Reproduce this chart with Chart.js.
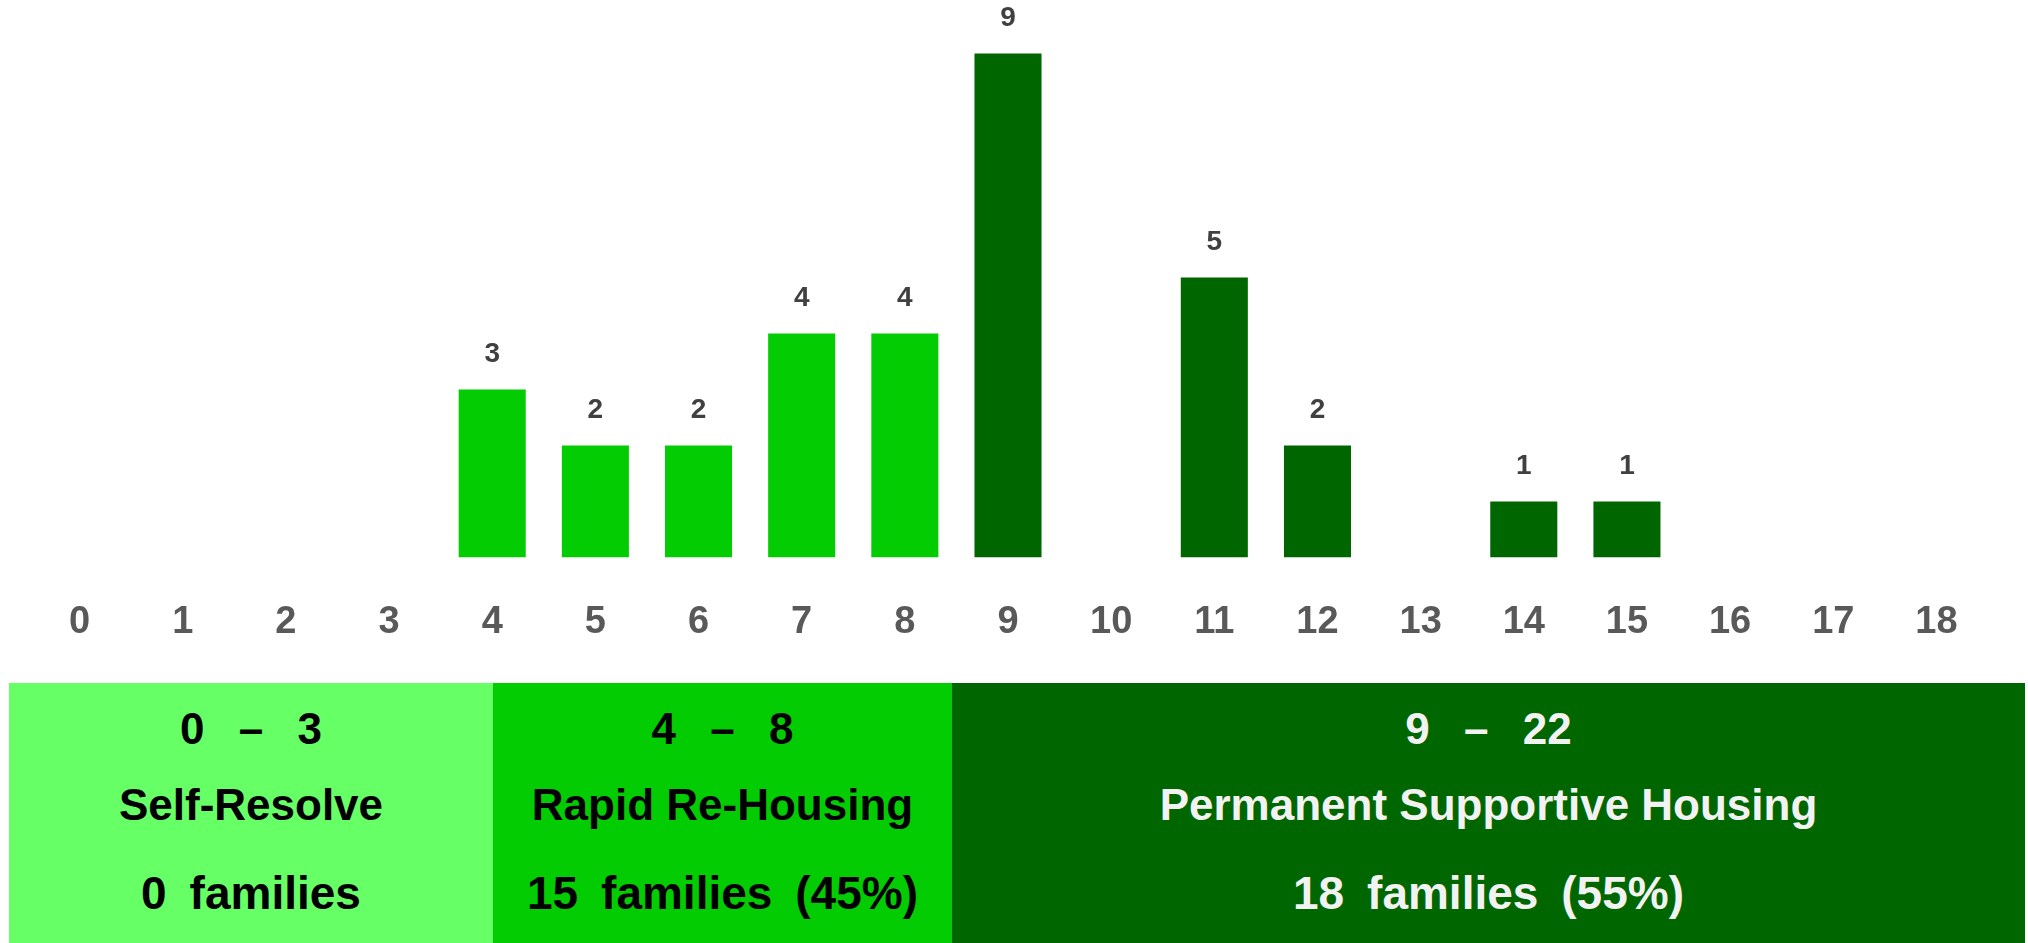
<!DOCTYPE html>
<html>
<head>
<meta charset="utf-8">
<script src="https://cdn.jsdelivr.net/npm/chart.js@4/dist/chart.umd.min.js"></script>
<style>
  html, body { margin: 0; padding: 0; background: #fff; }
  #wrap { position: relative; width: 2028px; height: 943px; overflow: hidden;
    font-family: "Liberation Sans", Arial, sans-serif; font-weight: bold; }
  #chart-box { position: absolute; left: 0; top: 0; width: 2028px; height: 687px; }
  .band { position: absolute; top: 683px; height: 260px; }
  .band .line { position: absolute; left: 0; right: 0; text-align: center; white-space: pre; }
  .band .range { top: 20px; height: 52px; line-height: 52px; font-size: 44px; word-spacing: 0.5em; }
  .band .name { top: 96px; height: 52px; line-height: 52px; font-size: 44px; }
  .band .count { top: 183px; height: 54px; line-height: 54px; font-size: 46px; word-spacing: 0.22em; }
</style>
</head>
<body>
<div id="wrap">
  <div id="chart-box"><canvas id="bars"></canvas></div>
  <div id="bands"></div>
</div>
<script>
'use strict';

// x categories (score) and number of families per score
var scores = ['0', '1', '2', '3', '4', '5', '6', '7', '8', '9', '10', '11', '12', '13', '14', '15', '16', '17', '18'];
var families = [0, 0, 0, 0, 3, 2, 2, 4, 4, 9, 0, 5, 2, 0, 1, 1, 0, 0, 0];

// recommendation tiers shown under the chart
var tierStart = [0, 4, 9];
var tierRanges = ['0 \u2013 3', '4 \u2013 8', '9 \u2013 22'];
var tierNames = ['Self-Resolve', 'Rapid Re-Housing', 'Permanent Supportive Housing'];
var tierCounts = ['0 families', '15 families (45%)', '18 families (55%)'];

var tierColors = ['#66ff66', '#03cc03', '#006600'];
var tierText = ['#000000', '#000000', '#f2f2f2'];
var bandEdges = [9, 493, 952, 2025];

function tierOf(score) {
  var t = 0;
  for (var i = 0; i < tierStart.length; i++) {
    if (score >= tierStart[i]) t = i;
  }
  return t;
}

(function () {
  var barColors = scores.map(function (s) { return tierColors[tierOf(Number(s))]; });

  // counts above the bars
  var valueLabels = {
    id: 'valueLabels',
    afterDatasetsDraw: function (chart) {
      var ctx = chart.ctx;
      var meta = chart.getDatasetMeta(0);
      ctx.save();
      ctx.font = 'bold 28px "Liberation Sans", Arial, sans-serif';
      ctx.fillStyle = '#404040';
      ctx.textAlign = 'center';
      ctx.textBaseline = 'middle';
      meta.data.forEach(function (bar, i) {
        var v = families[i];
        if (!v) return;
        ctx.fillText(String(v), bar.x, bar.y - 35);
      });
      ctx.restore();
    }
  };

  new Chart(document.getElementById('bars').getContext('2d'), {
    type: 'bar',
    data: {
      labels: scores,
      datasets: [{
        data: families,
        backgroundColor: barColors,
        borderWidth: 0,
        categoryPercentage: 1,
        barPercentage: 0.65
      }]
    },
    options: {
      responsive: true,
      maintainAspectRatio: false,
      animation: false,
      layout: { padding: { left: 28, right: 40, top: 3, bottom: 0 } },
      plugins: { legend: { display: false }, tooltip: { enabled: false } },
      scales: {
        x: {
          grid: { display: false, drawTicks: false },
          border: { display: false },
          ticks: {
            color: '#595959',
            padding: 42,
            font: { family: '"Liberation Sans", Arial, sans-serif', size: 38, weight: 'bold' }
          }
        },
        y: {
          display: false,
          min: 0,
          max: 9.9
        }
      }
    },
    plugins: [valueLabels]
  });

  // tier bands
  var host = document.getElementById('bands');
  tierNames.forEach(function (name, i) {
    var band = document.createElement('div');
    band.className = 'band';
    band.style.left = bandEdges[i] + 'px';
    band.style.width = (bandEdges[i + 1] - bandEdges[i]) + 'px';
    band.style.background = tierColors[i];
    band.style.color = tierText[i];
    [['range', tierRanges[i]], ['name', name], ['count', tierCounts[i]]].forEach(function (row) {
      var el = document.createElement('div');
      el.className = 'line ' + row[0];
      el.textContent = row[1];
      band.appendChild(el);
    });
    host.appendChild(band);
  });
})();
</script>
</body>
</html>
